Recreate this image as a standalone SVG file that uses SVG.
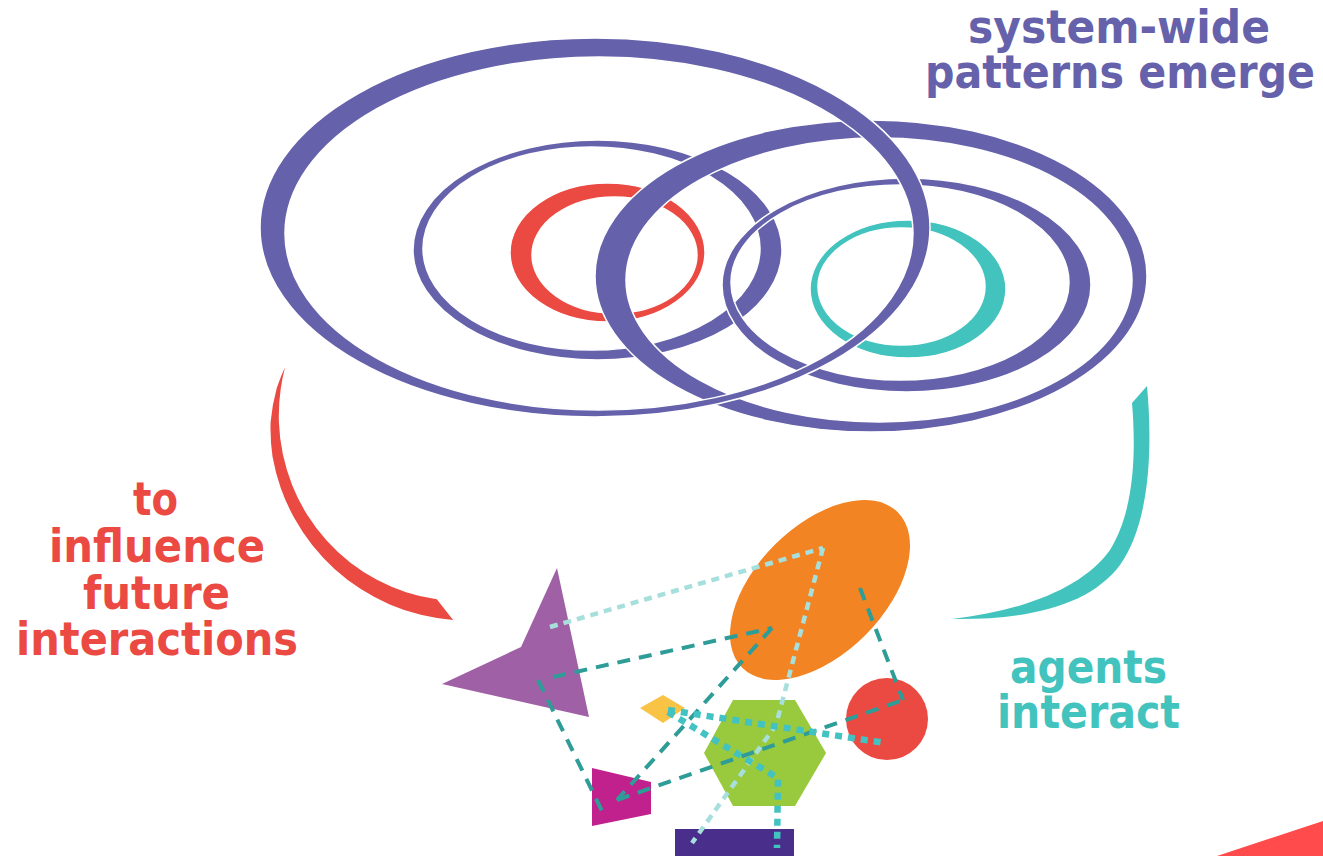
<svg xmlns="http://www.w3.org/2000/svg" width="1323" height="856" viewBox="0 0 1323 856">
<style>
.ring{fill-rule:evenodd;stroke:#fff;stroke-width:1.5}
.pu{fill:#6562AB}
.lbl{font-family:"DejaVu Sans","Liberation Sans",sans-serif;font-weight:bold;font-size:46px;text-anchor:middle}
.dash{fill:none;stroke:#2E9C97;stroke-width:4;stroke-dasharray:13 9}
.dotl{fill:none;stroke:#A7DFDC;stroke-width:4.5;stroke-dasharray:8 6}
.dotm{fill:none;stroke:#42C3C2;stroke-width:6.5;stroke-dasharray:7 6}
</style>
<rect width="1323" height="856" fill="#fff"/>
<g id="rings">
<path id="ring-e2" class="ring pu" d="M413,250 a184.5,110 0 1,0 369,0 a184.5,110 0 1,0 -369,0 Z M423,248.5 a168.5,101.5 0 1,0 337,0 a168.5,101.5 0 1,0 -337,0 Z"/>
<path id="ring-red" class="ring" fill="#EB4A42" d="M510,252.5 a97.5,69.5 0 1,0 195,0 a97.5,69.5 0 1,0 -195,0 Z M532,255 a82.5,58 0 1,0 165,0 a82.5,58 0 1,0 -165,0 Z"/>
<path id="ring-e4" class="ring pu" d="M595,276 a276,156 0 1,0 552,0 a276,156 0 1,0 -552,0 Z M626,280 a253,142 0 1,0 506,0 a253,142 0 1,0 -506,0 Z"/>
<path id="ring-e5" class="ring pu" d="M722,285 a184.5,107 0 1,0 369,0 a184.5,107 0 1,0 -369,0 Z M731,282.5 a169,97.5 0 1,0 338,0 a169,97.5 0 1,0 -338,0 Z"/>
<path id="ring-cyan" class="ring" fill="#42C3BE" d="M810,289 a98,69 0 1,0 196,0 a98,69 0 1,0 -196,0 Z M818,286.5 a83.5,58.5 0 1,0 167,0 a83.5,58.5 0 1,0 -167,0 Z"/>
<path id="ring-e1" class="ring pu" d="M260,227.5 a335,189.5 0 1,0 670,0 a335,189.5 0 1,0 -670,0 Z M285,233.5 a314,176.5 0 1,0 628,0 a314,176.5 0 1,0 -628,0 Z"/>
</g>
<g id="arrows">
<path id="arrow-red" fill="#EB4A42" d="M285.1,367.1 A194,194 0 0 0 276.7,388.3 A196,196 0 0 0 270.6,422 A198,198 0 0 0 272.5,456.5 A198.5,198.5 0 0 0 453.1,619.9 L436.8,599.3 A181,181 0 0 1 406.1,592.2 A182,182 0 0 1 376.9,579.8 A183,183 0 0 1 350.1,562.5 A184,184 0 0 1 326.6,540.6 A185,185 0 0 1 307.2,514.8 A186.5,186.5 0 0 1 292.5,485.9 A187.5,187.5 0 0 1 282.9,454.6 A188.5,188.5 0 0 1 278.9,422 A190,190 0 0 1 280.7,389 A190.5,190.5 0 0 1 285.1,367.1 Z"/>
<path id="arrow-cyan" fill="#42C3BE" d="M1147,386 C1152,440 1152,520 1120,565 C1090,605 1030,620 952,619 C1030,610 1085,585 1110,550 C1135,510 1136,450 1132,403 Z"/>
</g>
<g id="labels">
<text class="lbl" fill="#6562AB" x="1119" y="43" textLength="302" lengthAdjust="spacingAndGlyphs">system-wide</text>
<text class="lbl" fill="#6562AB" x="1120" y="88" textLength="390" lengthAdjust="spacingAndGlyphs">patterns emerge</text>
<text class="lbl" fill="#EB4A42" x="155.5" y="515" textLength="45" lengthAdjust="spacingAndGlyphs">to</text>
<text class="lbl" fill="#EB4A42" x="157" y="562" textLength="216" lengthAdjust="spacingAndGlyphs">influence</text>
<text class="lbl" fill="#EB4A42" x="156.5" y="609" textLength="147" lengthAdjust="spacingAndGlyphs">future</text>
<text class="lbl" fill="#EB4A42" x="157" y="655" textLength="282" lengthAdjust="spacingAndGlyphs">interactions</text>
<text class="lbl" fill="#42C3BE" x="1088.5" y="683" textLength="157" lengthAdjust="spacingAndGlyphs">agents</text>
<text class="lbl" fill="#42C3BE" x="1088.5" y="728" textLength="183" lengthAdjust="spacingAndGlyphs">interact</text>
</g>
<g id="agent-orange"><ellipse cx="820" cy="590" rx="110" ry="64" transform="rotate(-45 820 590)" fill="#F38423"/></g>
<g id="agent-triangle"><polygon points="557,568 589,717 442,684 521,647" fill="#A060A6"/></g>
<g id="agent-diamond"><polygon points="640,708 663,695 685,708 663,723" fill="#F9C446"/></g>
<g id="agent-hexagon"><polygon points="733,700 795,700 826,753 795,806 733,806 704,753" fill="#99C93C"/></g>
<g id="agent-circle"><circle cx="887" cy="719" r="41" fill="#EB4A42"/></g>
<g id="agent-trapezoid"><polygon points="592,768 651,782 651,814 592,826" fill="#C1218D"/></g>
<g id="agent-rect"><rect x="675" y="829" width="119" height="30" fill="#4A2E8B"/></g>
<g id="connectors">
<path class="dash" d="M553,677 L772,628"/>
<path class="dash" d="M538,680 L604,815"/>
<path class="dash" d="M772,628 L617,800"/>
<path class="dash" d="M617,800 L903,700"/>
<path class="dash" d="M860,588 L903,700"/>
<path class="dotl" d="M550,627 L823,548"/>
<path class="dotl" d="M823,548 L776,725 L692,843"/>
<path class="dotm" d="M668,710 L885,743"/>
<path class="dotm" d="M668,712 L778,778 L777,848"/>
</g>
<polygon id="corner" points="1217,856 1323,821 1323,856" fill="#FF4B4B"/>
</svg>
